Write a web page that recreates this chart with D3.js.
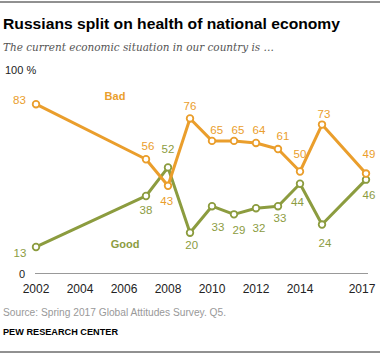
<!DOCTYPE html>
<html><head><meta charset="utf-8">
<script src="https://cdn.jsdelivr.net/npm/d3@7"></script>
<style>
body{margin:0;background:#fff;}
svg{display:block;}
</style></head>
<body>
<svg id="c" width="384" height="356"></svg>
<script>
const years = [2002, 2007, 2008, 2009, 2010, 2011, 2012, 2013, 2014, 2015, 2017];
const bad  = [83, 56, 43, 76, 65, 65, 64, 61, 50, 73, 49];
const good = [13, 38, 52, 20, 33, 29, 32, 33, 44, 24, 46];
const tickYears = [2002, 2004, 2006, 2008, 2010, 2012, 2014, 2017];

// value-label offsets (pixels from the point to the label centre)
const badLabelDx  = [-16.5, 2, -1.3, 0, 4.7, 4, 3, 5, 0, 2, 3];
const badLabelDy  = [-4, -13.3, 15, -12, -11.3, -11.3, -13, -13.3, -18, -11, -20];
const goodLabelDx = [-16, 0, 0, 1.7, 6, 5, 3, 2, -2.5, 3, 3];
const goodLabelDy = [6, 14, -18, 12.5, 20.6, 15.3, 20, 12.3, 18.5, 18, 15.7];

const svg = d3.select("#c");
const orange = "#EA9E2C", olive = "#8C9C3F";
const x = d3.scaleLinear().domain([2002, 2017]).range([36, 366]);
const y = d3.scaleLinear().domain([0, 100]).range([273.5, 69.5]);
const font = "'Liberation Sans', Arial, sans-serif";

svg.append("line").attr("x1",0).attr("x2",380).attr("y1",2).attr("y2",2).attr("stroke","#222").attr("stroke-width",1);
svg.append("line").attr("x1",0).attr("x2",380).attr("y1",352).attr("y2",352).attr("stroke","#222").attr("stroke-width",1);

svg.append("text").attr("x",3).attr("y",29).attr("font-family",font).attr("font-weight","bold")
  .attr("font-size",15.5).attr("fill","#000").attr("textLength",337).attr("lengthAdjust","spacingAndGlyphs")
  .text("Russians split on health of national economy");
svg.append("text").attr("x",3).attr("y",51).attr("font-family","'DejaVu Serif', Georgia, serif").attr("font-style","italic")
  .attr("font-size",11.5).attr("fill","#555").attr("textLength",271).attr("lengthAdjust","spacingAndGlyphs")
  .text("The current economic situation in our country is …");
svg.append("text").attr("x",5).attr("y",74).attr("font-family",font).attr("font-size",11).attr("fill","#222").text("100 %");

// axis
svg.append("line").attr("x1",x(2002)-1).attr("x2",x(2017)+2).attr("y1",y(0)).attr("y2",y(0)).attr("stroke","#999").attr("stroke-width",1);
svg.append("text").attr("x",25).attr("y",y(0)+4).attr("text-anchor","end").attr("font-family",font).attr("font-size",11).attr("fill","#222").text("0");
svg.selectAll("text.tick").data(tickYears).enter().append("text").attr("class","tick")
  .attr("x",d=> d===2017 ? x(d)-4 : x(d)).attr("y",293).attr("text-anchor","middle")
  .attr("font-family",font).attr("font-size",12).attr("fill","#222").text(d=>d);

const line = d3.line().x(d=>x(d[0])).y(d=>y(d[1]));
function series(vals, color, dxs, dys){
  const pts = years.map((yr,i)=>[yr, vals[i]]);
  const g = svg.append("g");
  g.append("path").attr("d", line(pts)).attr("fill","none").attr("stroke",color).attr("stroke-width",3).attr("stroke-linejoin","round");
  g.selectAll("circle").data(pts).enter().append("circle").attr("cx",d=>x(d[0])).attr("cy",d=>y(d[1])).attr("r",3.3)
    .attr("fill","#fff").attr("stroke",color).attr("stroke-width",1.8);
  g.selectAll("text").data(pts).enter().append("text")
    .attr("x",(d,i)=> x(d[0]) + dxs[i])
    .attr("y",(d,i)=> y(d[1]) + dys[i] + 4)
    .attr("text-anchor","middle")
    .attr("font-family",font).attr("font-size",11.5).attr("fill",color).text(d=>d[1]);
  return g;
}
series(good, olive, goodLabelDx, goodLabelDy);
series(bad, orange, badLabelDx, badLabelDy);

svg.append("text").attr("x",115).attr("y",100).attr("text-anchor","middle").attr("font-family",font).attr("font-weight","bold").attr("font-size",11).attr("fill",orange).text("Bad");
svg.append("text").attr("x",125).attr("y",248).attr("text-anchor","middle").attr("font-family",font).attr("font-weight","bold").attr("font-size",11).attr("fill",olive).text("Good");

svg.append("text").attr("x",3).attr("y",316).attr("font-family",font).attr("font-size",10).attr("fill","#999")
  .attr("textLength",223).attr("lengthAdjust","spacingAndGlyphs").text("Source: Spring 2017 Global Attitudes Survey. Q5.");
svg.append("text").attr("x",3).attr("y",335).attr("font-family",font).attr("font-weight","bold").attr("font-size",9.5).attr("fill","#000")
  .attr("textLength",115).attr("lengthAdjust","spacingAndGlyphs").text("PEW RESEARCH CENTER");
</script>
</body></html>
